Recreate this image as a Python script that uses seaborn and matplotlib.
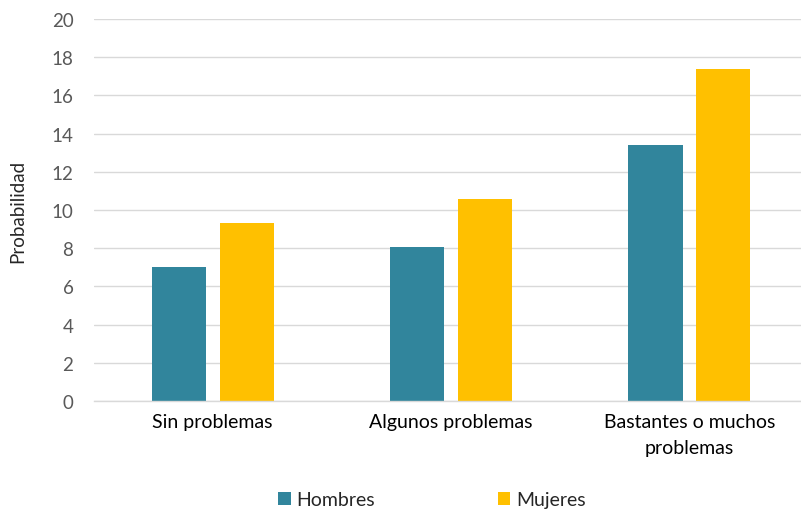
import numpy as np
import pandas as pd
import seaborn as sns
import matplotlib.pyplot as plt
from matplotlib.patches import Patch

categorias = ["Sin problemas", "Algunos problemas", "Bastantes o muchos\nproblemas"]
hombres = [7.0, 8.05, 13.4]
mujeres = [9.3, 10.6, 17.4]
grupos = ["Hombres", "Mujeres"]
colores = ["#31859C", "#FFC000"]

df = pd.DataFrame({
    "categoria": categorias * 2,
    "sexo": [grupos[0]] * 3 + [grupos[1]] * 3,
    "prob": hombres + mujeres,
})

sns.set_style("white")
plt.rcParams['font.family'] = ['Lato', 'DejaVu Sans']

fig = plt.figure(figsize=(8.01, 5.10), dpi=100)
ax = fig.add_axes([93.6 / 801, (510 - 402) / 510, (801 - 93.6) / 801, 382 / 510])

sns.barplot(data=df, x="categoria", y="prob", hue="sexo", hue_order=grupos,
            palette=colores, saturation=1, width=0.57, gap=0.2, linewidth=0,
            ax=ax, legend=False, errorbar=None)

ax.set_xlim(-0.5, (801 - 93.6) / 238.3 - 0.5)
ax.set_ylim(0, 20)
ax.set_yticks(np.arange(0, 21, 2))
ax.yaxis.grid(True, color="#D9D9D9", linewidth=1)
ax.set_axisbelow(True)
for s in ["top", "right", "left"]:
    ax.spines[s].set_visible(False)
ax.spines["bottom"].set_color("#D9D9D9")
ax.spines["bottom"].set_linewidth(1)

ax.tick_params(axis="y", length=0, pad=14.5, labelsize=13.5, labelcolor="#595959")
ax.tick_params(axis="x", length=0, pad=9, labelsize=14, labelcolor="#000000")
for lbl in ax.get_xticklabels():
    lbl.set_linespacing(1.6)
ax.set_xlabel("")
ax.set_ylabel("Probabilidad", fontsize=13.5, labelpad=18)

handles = [Patch(facecolor=c, edgecolor="none") for c in colores]
fig.legend(handles, grupos, loc="center", bbox_to_anchor=(432 / 801, 1 - 501 / 510),
           ncol=2, frameon=False, fontsize=14, handlelength=0.65, handleheight=0.65,
           handletextpad=0.3, columnspacing=6.3)

fig.savefig("out.png", dpi=100)
